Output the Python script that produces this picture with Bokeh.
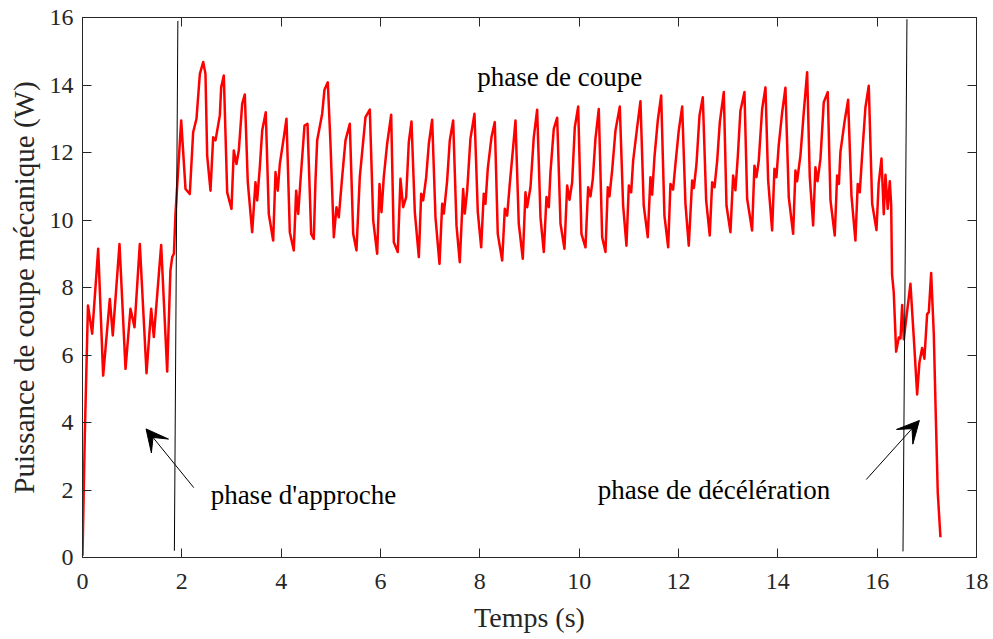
from bokeh.plotting import figure
from bokeh.models import Range1d, LinearAxis, SingleIntervalTicker, Arrow, VeeHead, Label
from bokeh.embed import file_html
from bokeh.resources import INLINE

# ---------------- data ----------------
t_approche = [0.0, 0.047, 0.11, 0.195, 0.316, 0.416, 0.55, 0.61, 0.745, 0.866, 0.966, 1.047,
              1.154, 1.289, 1.383, 1.436, 1.584, 1.705, 1.77, 1.806, 1.84]
p_approche = [0.05, 3.66, 7.47, 6.63, 9.15, 5.39, 7.66, 6.58, 9.29, 5.59, 7.37, 6.82,
              9.29, 5.46, 7.37, 6.53, 9.26, 5.51, 8.5, 8.90, 9.0]

t_coupe = [1.872, 1.987, 2.074, 2.16, 2.228, 2.295, 2.363, 2.43, 2.476, 2.51, 2.577, 2.631, 2.678,
           2.765, 2.792, 2.845, 2.913, 3.0, 3.046, 3.1, 3.147, 3.215, 3.268, 3.328, 3.416, 3.483,
           3.517, 3.57, 3.618, 3.69, 3.751, 3.839, 3.886, 3.932, 3.973, 4.053, 4.107, 4.174, 4.254,
           4.302, 4.343, 4.389, 4.47, 4.53, 4.604, 4.657, 4.691, 4.725, 4.826, 4.872, 4.939, 4.993,
           5.06, 5.114, 5.16, 5.228, 5.295, 5.382, 5.45, 5.516, 5.583, 5.698, 5.785, 5.853, 5.933,
           5.98, 6.02, 6.066, 6.134, 6.215, 6.268, 6.348, 6.402, 6.456, 6.517, 6.57, 6.624, 6.691,
           6.772, 6.819, 6.859, 6.92, 6.973, 7.04, 7.107, 7.188, 7.242, 7.275, 7.342, 7.395, 7.463,
           7.53, 7.596, 7.664, 7.697, 7.745, 7.811, 7.892, 7.959, 8.027, 8.079, 8.113, 8.16, 8.234,
           8.301, 8.361, 8.45, 8.503, 8.55, 8.603, 8.671, 8.718, 8.784, 8.865, 8.919, 8.952, 9.02,
           9.086, 9.154, 9.221, 9.288, 9.342, 9.389, 9.422, 9.489, 9.557, 9.624, 9.704, 9.758, 9.805,
           9.859, 9.912, 9.98, 10.046, 10.127, 10.181, 10.228, 10.275, 10.328, 10.395, 10.463, 10.53,
           10.576, 10.61, 10.664, 10.731, 10.818, 10.885, 10.952, 11.0, 11.047, 11.087, 11.168,
           11.234, 11.3, 11.381, 11.435, 11.47, 11.516, 11.583, 11.651, 11.717, 11.792, 11.838,
           11.891, 11.939, 12.005, 12.074, 12.14, 12.207, 12.275, 12.31, 12.362, 12.423, 12.489,
           12.557, 12.629, 12.678, 12.725, 12.779, 12.832, 12.912, 12.966, 13.046, 13.1, 13.146,
           13.193, 13.247, 13.328, 13.382, 13.482, 13.529, 13.57, 13.616, 13.684, 13.751, 13.805,
           13.885, 13.932, 13.972, 14.018, 14.087, 14.153, 14.22, 14.308, 14.355, 14.388, 14.455,
           14.522, 14.59, 14.643, 14.711, 14.757, 14.8, 14.858, 14.925, 15.005, 15.06, 15.146,
           15.194, 15.23, 15.26, 15.347, 15.415, 15.482, 15.562, 15.609, 15.65, 15.697, 15.764,
           15.831]
p_coupe = [10.18, 12.95, 10.92, 10.77, 12.6, 13.0, 14.33, 14.68, 14.33, 11.91, 10.87, 12.45, 12.36,
           13.1, 13.93, 14.28, 10.82, 10.33, 12.06, 11.66, 12.06, 13.44, 13.72, 11.12, 9.64, 11.12,
           10.58, 11.56, 12.65, 13.19, 10.18, 9.39, 11.42, 10.87, 11.66, 12.45, 13.0, 9.64, 9.10,
           10.87, 10.18, 11.17, 12.8, 12.85, 9.59, 9.44, 11.17, 12.36, 13.15, 13.86, 14.08, 12.26,
           9.49, 10.38, 10.08, 11.27, 12.36, 12.85, 9.59, 9.10, 11.27, 13.05, 13.27, 9.99, 9.0,
           11.07, 10.23, 11.27, 12.26, 13.12, 9.34, 9.05, 11.22, 10.38, 10.68, 12.31, 12.92, 10.23,
           8.90, 10.78, 10.58, 11.27, 12.26, 12.97, 10.08, 8.70, 10.48, 10.19, 11.17, 12.36, 12.95,
           9.84, 8.75, 10.92, 10.19, 10.87, 12.41, 13.15, 10.23, 9.19, 10.78, 10.48, 11.52, 12.45,
           12.9, 9.59, 8.8, 10.33, 10.13, 11.07, 12.16, 12.95, 9.89, 8.85, 10.82, 10.38, 10.97,
           12.45, 13.27, 10.08, 9.05, 10.68, 10.38, 11.42, 12.7, 13.03, 9.89, 9.15, 11.02, 10.6,
           11.12, 12.75, 13.36, 9.59, 9.19, 10.97, 10.7, 11.22, 12.41, 13.29, 9.49, 9.05,
           10.97, 10.7, 11.47, 12.65, 13.36, 10.43, 9.24, 11.02, 10.82, 11.76, 12.75,
           13.52, 10.43, 9.49, 11.27, 10.75, 11.86, 12.95, 13.69, 10.13, 9.19, 11.07,
           10.9, 11.66, 12.65, 13.36, 10.48, 9.24, 11.17, 10.95, 11.66, 13.1, 13.64,
           10.58, 9.54, 11.12, 10.97, 11.76, 12.9, 13.79, 10.43, 9.64, 11.32, 10.88,
           11.86, 13.24, 13.79, 10.63, 9.69, 11.61, 11.27, 11.76, 13.29, 13.93, 11.17,
           9.69, 11.52, 11.27, 12.21, 13.19, 13.92, 10.68, 9.59, 11.47, 11.15, 11.91,
           13.19, 14.38, 11.27, 9.84, 11.56, 11.15, 11.81, 13.49, 13.79, 10.58, 9.54,
           11.32, 11.07, 12.01, 12.95, 13.56, 10.73, 9.39, 11.07, 10.82, 11.91, 13.34,
           13.98]

t_decel = [15.899, 15.986, 16.03, 16.087, 16.133, 16.167, 16.213, 16.254, 16.282, 16.30, 16.334,
           16.382, 16.436, 16.47, 16.503, 16.536, 16.583, 16.67, 16.737, 16.805, 16.851, 16.905,
           16.951, 17.006, 17.04, 17.087, 17.14, 17.174, 17.22, 17.274]
p_decel = [10.49, 9.70, 11.08, 11.82, 10.17, 11.34, 10.33, 11.15, 10.44, 8.38, 7.85,
           6.10, 6.52, 6.49, 7.48, 6.47, 7.05, 8.11, 6.52, 4.83, 5.78, 6.21,
           5.89, 7.21, 7.27, 8.43, 6.63, 4.57, 1.92, 0.60]

# phase separators
sep1_x = [1.85, 1.92]
sep1_y = [0.2, 15.9]
sep2_x = [16.52, 16.60]
sep2_y = [0.18, 15.95]

x_ticks_interval = 2
y_ticks_interval = 2

t_all = t_approche + t_coupe + t_decel
p_all = p_approche + p_coupe + p_decel

FONT = "Liberation Serif"
AX = "#262626"

fig = figure(width=993, height=639, x_range=Range1d(0, 18), y_range=Range1d(0, 16),
             output_backend="svg", toolbar_location=None,
             min_border_left=82, min_border_right=17, min_border_top=17, min_border_bottom=82)
fig.grid.visible = False
fig.background_fill_color = "white"
fig.border_fill_color = "white"
fig.outline_line_color = AX
fig.outline_line_width = 1

fig.xaxis.ticker = SingleIntervalTicker(interval=x_ticks_interval, num_minor_ticks=0)
fig.yaxis.ticker = SingleIntervalTicker(interval=y_ticks_interval, num_minor_ticks=0)

for ax in [fig.xaxis[0], fig.yaxis[0]]:
    ax.major_tick_in = 9
    ax.major_tick_out = 0
    ax.minor_tick_in = 0
    ax.minor_tick_out = 0
    ax.axis_line_color = AX
    ax.major_tick_line_color = AX
    ax.major_label_text_font = FONT
    ax.major_label_text_font_size = "24px"
    ax.major_label_text_color = AX
    ax.axis_label_text_font = FONT
    ax.axis_label_text_font_style = "normal"
    ax.axis_label_text_color = AX

fig.xaxis.axis_label = "Temps (s)"
fig.xaxis.axis_label_text_font_size = "28px"
fig.xaxis.major_label_standoff = 16
fig.xaxis.axis_label_standoff = 10
fig.xaxis.axis_label_text_line_height = 0.8
fig.yaxis.axis_label = "Puissance de coupe mécanique (W)"
fig.yaxis.axis_label_text_font_size = "29px"
fig.yaxis.major_label_standoff = 9
fig.yaxis.axis_label_standoff = 7

for loc in ["above", "right"]:
    ax = LinearAxis(ticker=SingleIntervalTicker(interval=x_ticks_interval if loc == "above" else y_ticks_interval,
                                                num_minor_ticks=0),
                    major_tick_in=9, major_tick_out=0, minor_tick_in=0, minor_tick_out=0,
                    major_label_text_font_size="0px", major_label_text_color=None,
                    major_label_standoff=0, axis_line_color=AX, major_tick_line_color=AX)
    fig.add_layout(ax, loc)

fig.line(t_all, p_all, line_color="#ff0000", line_width=2.5, line_join="round")
fig.line(sep1_x, sep1_y, line_color="black", line_width=1)
fig.line(sep2_x, sep2_y, line_color="black", line_width=1)

fig.add_layout(Arrow(end=VeeHead(size=22, fill_color="black", line_color="black", line_width=1),
                     x_start=2.24, y_start=2.07, x_end=1.28, y_end=3.81,
                     line_color="black", line_width=1))
fig.add_layout(Arrow(end=VeeHead(size=22, fill_color="black", line_color="black", line_width=1),
                     x_start=15.78, y_start=2.31, x_end=16.85, y_end=4.06,
                     line_color="black", line_width=1))

for x, y, txt in [(7.95, 14.25, "phase de coupe"),
                  (2.58, 1.84, "phase d'approche"),
                  (10.375, 1.99, "phase de décélération")]:
    fig.add_layout(Label(x=x, y=y, text=txt, text_font=FONT, text_font_size="27px",
                         text_baseline="alphabetic", text_color="black"))

open("out.html", "w").write(file_html(fig, INLINE))
